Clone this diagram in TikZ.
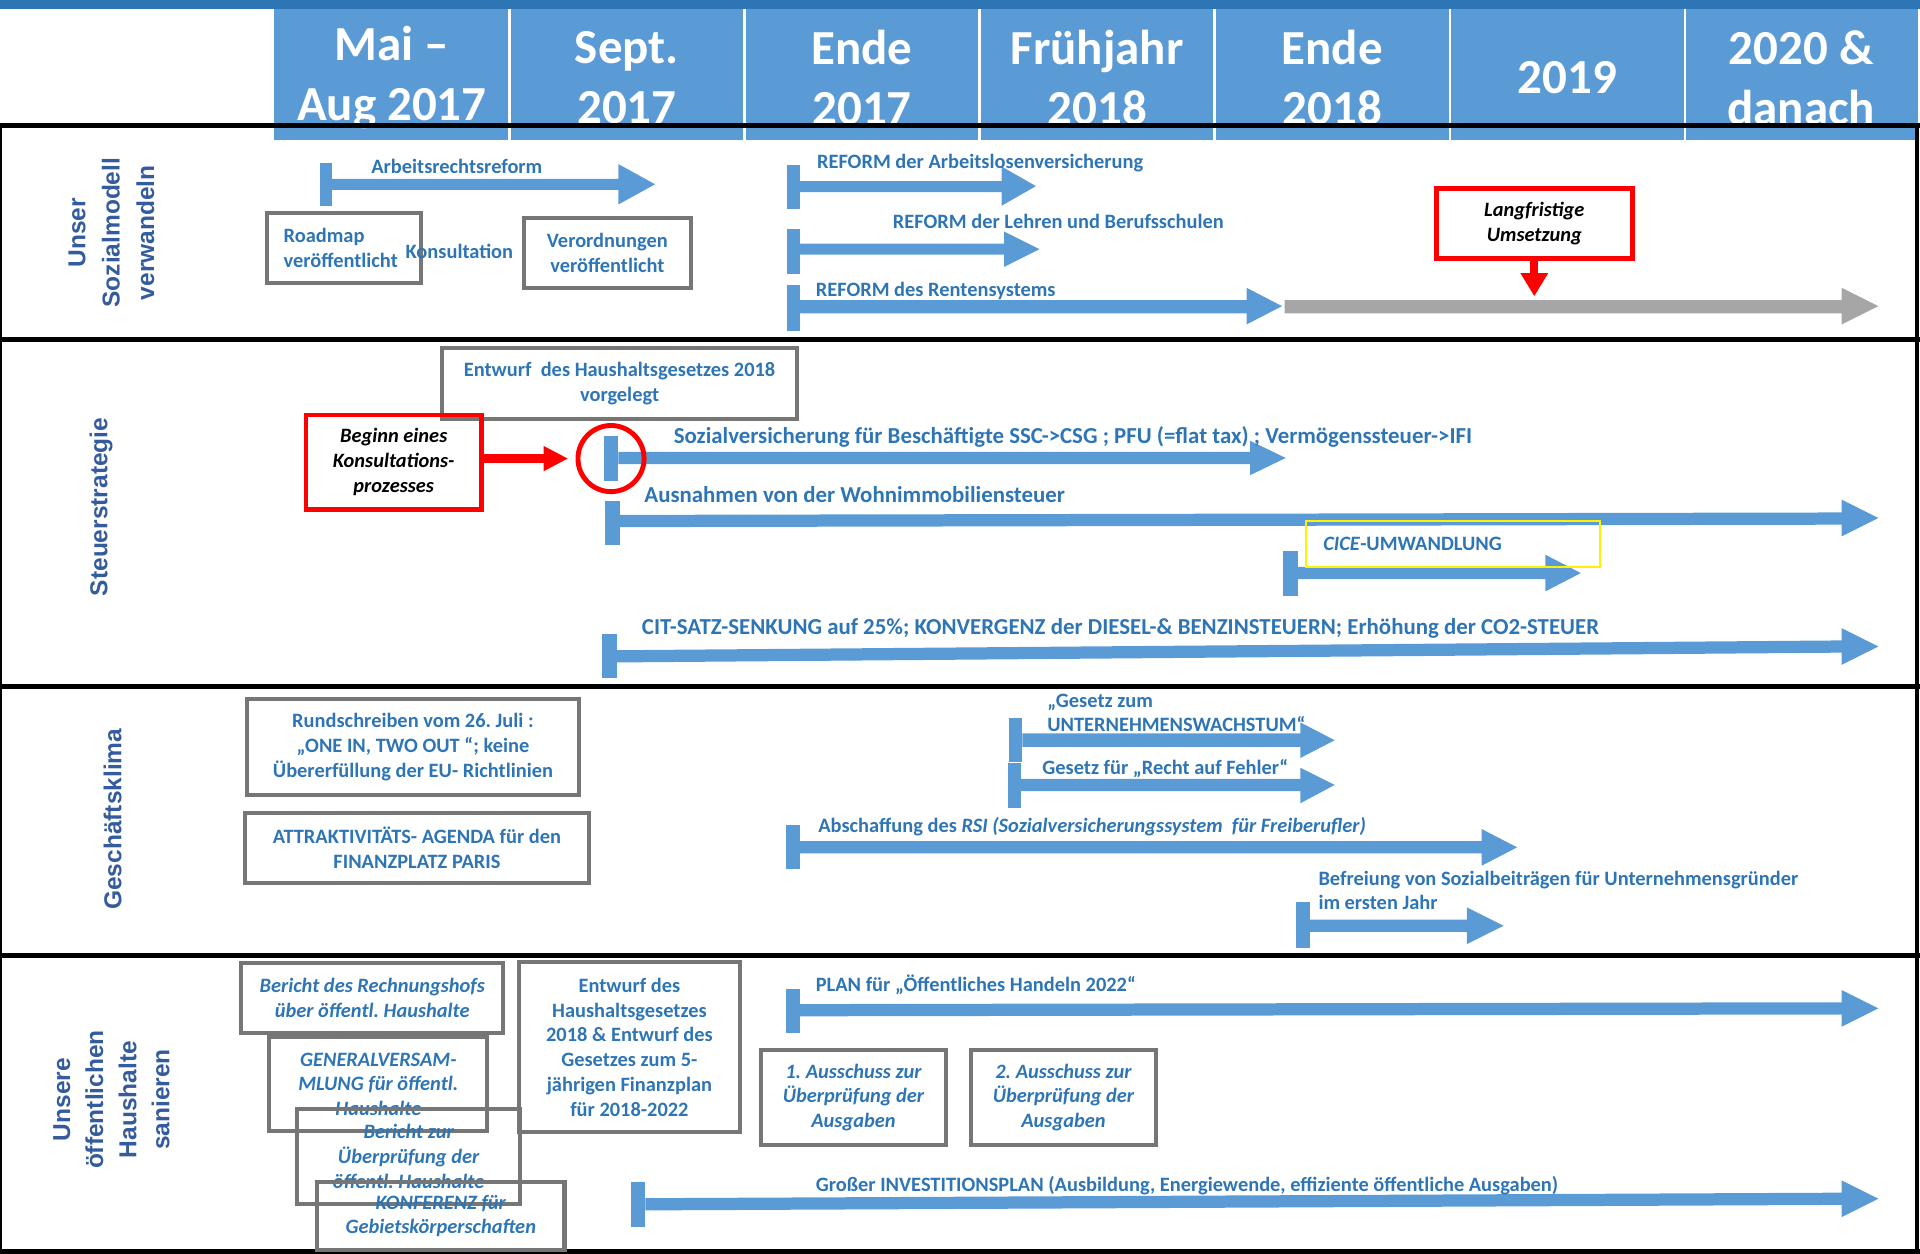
\documentclass[tikz,border=0pt]{standalone}
\usepackage{fontspec}
\setmainfont{Carlito}
\newfontfamily\sectfont{Liberation Sans}
\usepackage{tikz}
\usetikzlibrary{arrows.meta}

\definecolor{hdrblue}{RGB}{91,155,213}
\definecolor{topblue}{RGB}{46,117,182}
\definecolor{txtblue}{RGB}{46,117,182}
\definecolor{sectblue}{RGB}{52,92,157}
\definecolor{boxgray}{RGB}{118,118,118}
\definecolor{barblue}{RGB}{91,155,213}
\definecolor{longgray}{RGB}{166,166,166}

\begin{document}
\frenchspacing
\begin{tikzpicture}[x=0.75pt,y=0.75pt,yscale=-1,xscale=1,
  lbl/.style={anchor=west, inner sep=0.75pt, text=txtblue, font=\fontsize{12.5}{15.2}\selectfont\bfseries},
  lblbig/.style={lbl, font=\fontsize{14}{17}\selectfont\bfseries},
  gbox/.style={draw=boxgray, line width=2.5pt, inner sep=0pt, align=center, text=txtblue, font=\fontsize{12.5}{15.2}\selectfont\bfseries},
  gibox/.style={gbox, font=\fontsize{12.5}{15.2}\selectfont\bfseries\itshape},
  rbox/.style={draw=red, line width=2.8pt, inner sep=0pt, align=center, text=black, font=\fontsize{12.5}{15.2}\selectfont\bfseries\itshape},
  sect/.style={rotate=90, align=center, text=sectblue, font=\sectfont\fontsize{15}{21}\selectfont\bfseries},
  hdr/.style={align=center, text=white, inner sep=0pt, font=\fontsize{30}{36.5}\selectfont\bfseries},
  tlbar/.style={fill=barblue},
  sectline/.style={line width=3pt}
]
\useasboundingbox (0,0) rectangle (1568,1024);

%Header
\fill [topblue] (0,0) rectangle (1568,7);
\fill [hdrblue] (224,7) rectangle (1566,114);
\foreach \xs in {416,608,800,992,1184,1376}
  \draw [white, line width=1.5pt] (\xs,7) -- (\xs,114);

% Text Node
\node [hdr] (hdrMai) at (320,63.5) {Mai –\\Aug 2017};
\node [hdr] (hdrSept) at (512,63.5) {Sept.\\2017};
\node [hdr] (hdrEndeA) at (704,63.5) {Ende\\2017};
\node [hdr] (hdrFrueh) at (896,63.5) {Frühjahr\\2018};
\node [hdr] (hdrEndeB) at (1088,63.5) {Ende\\2018};
\node [hdr] (hdrJahr) at (1280,63) {2019};
\node [hdr] (hdrDanach) at (1471,63.5) {2020 \&\\danach};

%Straight Lines: section frames
\draw [sectline] (0,102.5) -- (1568,102.5);
\draw [sectline] (0,277) -- (1568,277);
\draw [sectline] (0,560.5) -- (1568,560.5);
\draw [sectline] (0,780.5) -- (1568,780.5);
\draw [sectline] (0,1022) -- (1568,1022);
\draw [line width=1.5pt] (1,102) -- (1,1024);
\draw [line width=2.5pt] (1565.5,102) -- (1565.5,1024);

% Text Node: section titles
\node [sect] (secSozial) at (91,190) {Unser\\Sozialmodell\\verwandeln};
\node [sect] (secSteuer) at (82.5,414) {Steuerstrategie};
\node [sect] (secKlima) at (92,669) {Geschäftsklima};
\node [sect, font=\sectfont\fontsize{15}{20.25}\selectfont\bfseries] (secHaushalt) at (91,898) {Unsere\\öffentlichen\\Haushalte\\sanieren};

%Shape: Right Arrow [Arbeitsrechtsreform]
\fill [tlbar] (261,133) rectangle (271,168);
\fill [tlbar] (271,146) -- (505,146) -- (505,134) -- (535,150.5) -- (505,167) -- (505,155) -- (271,155) -- cycle;
%Shape: Right Arrow [Arbeitslosenversicherung]
\fill [tlbar] (643,135) rectangle (653,171);
\fill [tlbar] (653,148) -- (818,148) -- (818,136) -- (846,152) -- (818,168) -- (818,157) -- (653,157) -- cycle;
%Shape: Right Arrow [Lehren]
\fill [tlbar] (643,187) rectangle (653,224);
\fill [tlbar] (653,199) -- (820,199) -- (820,189) -- (849,203.5) -- (820,218) -- (820,208) -- (653,208) -- cycle;
%Shape: Right Arrow [Rentensystem]
\fill [tlbar] (643,233) rectangle (653,270);
\fill [tlbar] (653,245) -- (1018,245) -- (1018,235) -- (1047,250) -- (1018,265) -- (1018,256) -- (653,256) -- cycle;
%Shape: Right Arrow [gray, long term]
\fill [longgray] (1049,245) -- (1504,245) -- (1504,235) -- (1534,250) -- (1504,265) -- (1504,256) -- (1049,256) -- cycle;

%Shape: Right Arrow [Sozialversicherung]
\fill [tlbar] (493,356) rectangle (505,393);
\fill [tlbar] (505,369) -- (1021,369) -- (1021,360) -- (1050,374) -- (1021,388) -- (1021,379) -- (505,379) -- cycle;
%Shape: Right Arrow [Wohnimmobilien]
\fill [tlbar] (494,409) rectangle (506,445);
\fill [tlbar] (506,420.5) -- (1504,418.5) -- (1504,408) -- (1534,423) -- (1504,438) -- (1504,428.5) -- (506,430.5) -- cycle;
%Shape: Right Arrow [CICE]
\fill [tlbar] (1048,450) rectangle (1060,487);
\fill [tlbar] (1060,463) -- (1262,463) -- (1262,453) -- (1291,468) -- (1262,483) -- (1262,473) -- (1060,473) -- cycle;
%Shape: Right Arrow [CIT]
\fill [tlbar] (492,518) rectangle (504,554);
\fill [tlbar] (504,531) -- (1504,523) -- (1504,513) -- (1534,528) -- (1504,543) -- (1504,533) -- (504,541) -- cycle;

%Shape: Right Arrow [Unternehmenswachstum]
\fill [tlbar] (824,586) rectangle (835,622);
\fill [tlbar] (835,599) -- (1062,599) -- (1062,590) -- (1090,604.5) -- (1062,619) -- (1062,610) -- (835,610) -- cycle;
%Shape: Right Arrow [Recht auf Fehler]
\fill [tlbar] (823,623) rectangle (834,660);
\fill [tlbar] (834,636) -- (1062,636) -- (1062,627) -- (1090,641) -- (1062,656) -- (1062,646) -- (834,646) -- cycle;
%Shape: Right Arrow [RSI]
\fill [tlbar] (642,674) rectangle (653,710);
\fill [tlbar] (653,687) -- (1210,687) -- (1210,677) -- (1239,692) -- (1210,707) -- (1210,697) -- (653,697) -- cycle;
%Shape: Right Arrow [Befreiung]
\fill [tlbar] (1058,737) rectangle (1070,774);
\fill [tlbar] (1070,751) -- (1198,751) -- (1198,741) -- (1228,756) -- (1198,771) -- (1198,761) -- (1070,761) -- cycle;

%Shape: Right Arrow [PLAN 2022]
\fill [tlbar] (642,808) rectangle (653,844);
\fill [tlbar] (653,820) -- (1504,818.5) -- (1504,808.5) -- (1534,823.5) -- (1504,838.5) -- (1504,828.5) -- (653,830) -- cycle;
%Shape: Right Arrow [Investitionsplan]
\fill [tlbar] (515,965) rectangle (527,1002);
\fill [tlbar] (527,978.5) -- (1504,974) -- (1504,964) -- (1534,979) -- (1504,994) -- (1504,984) -- (527,988.5) -- cycle;

% Text Node: Sozialmodell
\node [lbl] (lblArbeitsrecht) at (302,136) {Arbeitsrechtsreform};
\node [gbox, align=left, text width=74pt, inner xsep=10.25pt, minimum height=42.75pt] (boxRoadmap) at (281,202.5) {Roadmap\\veröffentlicht};
\node [lbl] (lblKonsult) at (330,205) {Konsultation};
\node [gbox, minimum width=102pt, minimum height=42.75pt] (boxVerordn) at (496,206.5) {Verordnungen\\veröffentlicht};
\node [lbl] (lblArbeitslos) at (666,133) {REFORM der Arbeitslosenversicherung};
\node [lbl] (lblLehren) at (728,181) {REFORM der Lehren und Berufsschulen};
\node [lbl] (lblRente) at (665,238) {REFORM des Rentensystems};
\node [rbox, minimum width=120pt, minimum height=42.75pt] (boxLang) at (1253,182.5) {Langfristige\\Umsetzung};
\coordinate (langTip) at (1253,242);
\draw [red, line width=5pt, -{Triangle[length=14.25pt,width=16pt]}] (boxLang.south) -- (langTip);

% Text Node: Steuerstrategie
\node [gbox, minimum width=217.5pt, minimum height=43.5pt] (boxEntwurf) at (506,313) {Entwurf\ \ des Haushaltsgesetzes 2018\\vorgelegt};
\node [rbox, minimum width=107.25pt, minimum height=57.75pt] (boxBeginn) at (321.5,377.5) {Beginn eines\\Konsultations-\\prozesses};
\node [draw=red, line width=3pt, circle, minimum size=40.5pt, inner sep=0pt] (ring) at (499,374.5) {};
\draw [red, line width=5.25pt, -{Triangle[length=15pt,width=14.25pt]}, shorten >=4.5pt] (boxBeginn.east |- ring.west) -- (ring.west);
\node [lblbig] (lblSozial) at (549,357) {Sozialversicherung für Beschäftigte SSC->CSG ; PFU (=flat tax) ; Vermögenssteuer->IFI};
\node [lblbig] (lblAusnahmen) at (525,404) {Ausnahmen von der Wohnimmobiliensteuer};
\node [lbl, draw=yellow, line width=1.1pt, text width=159pt, align=left, inner xsep=10.5pt, minimum height=28pt] (boxCice) at (1066,444.25) {\textit{CICE}-UMWANDLUNG};
\node [lblbig] (lblCit) at (523,513) {CIT-SATZ-SENKUNG auf 25\%; KONVERGENZ der DIESEL-\& BENZINSTEUERN; Erhöhung der CO2-STEUER};

% Text Node: Geschaeftsklima
\node [gbox, minimum width=203.6pt, minimum height=58.5pt] (boxRund) at (337.25,610) {Rundschreiben vom 26. Juli :\\„ONE IN, TWO OUT “; keine\\Übererfüllung der EU- Richtlinien};
\node [gbox, minimum width=210.75pt, minimum height=42.75pt] (boxAttrakt) at (340.5,692.5) {ATTRAKTIVITÄTS- AGENDA für den\\FINANZPLATZ PARIS};
\node [lbl, align=left, font=\fontsize{12.5}{14.6}\selectfont\bfseries] (lblWachstum) at (854,582) {„Gesetz zum\\UNTERNEHMENSWACHSTUM“};
\node [lbl] (lblFehler) at (850,628) {Gesetz für „Recht auf Fehler“};
\node [lbl] (lblRsi) at (667,675) {Abschaffung des \textit{RSI (Sozialversicherungssystem\ \ für Freiberufler)}};
\node [lbl, align=left, font=\fontsize{12.5}{15}\selectfont\bfseries] (lblBefreiung) at (1075.5,727) {Befreiung von Sozialbeiträgen für Unternehmensgründer\\im ersten Jahr};

% Text Node: Haushalte
\node [gibox, minimum width=160.5pt, minimum height=42.75pt] (boxRechnung) at (304,815) {Bericht des Rechnungshofs\\über öffentl. Haushalte};
\node [gibox, minimum width=133.5pt, minimum height=57.75pt] (boxGeneral) at (309,885.5) {GENERALVERSAM-\\MLUNG für öffentl.\\Haushalte};
\node [gibox, minimum width=136.9pt, minimum height=57.75pt] (boxBericht) at (333.75,944.5) {Bericht zur\\Überprüfung der\\öffentl. Haushalte};
\node [gibox, minimum width=151.5pt, minimum height=42pt] (boxKonferenz) at (360,993) {KONFERENZ für\\Gebietskörperschaften};
\node [gbox, minimum width=135pt, minimum height=103.9pt] (boxFinanz) at (514,855.25) {Entwurf des\\Haushaltsgesetzes\\2018 \& Entwurf des\\Gesetzes zum 5-\\jährigen Finanzplan\\für 2018-2022};
\node [gibox, minimum width=113.25pt, minimum height=58.1pt] (boxAusA) at (697,896.25) {1. Ausschuss zur\\Überprüfung der\\Ausgaben};
\node [gibox, minimum width=113.25pt, minimum height=58.1pt] (boxAusB) at (868.5,896.25) {2. Ausschuss zur\\Überprüfung der\\Ausgaben};
\node [lbl] (lblPlan) at (665,804) {PLAN für „Öffentliches Handeln 2022“};
\node [lbl] (lblInvest) at (665,968) {Großer INVESTITIONSPLAN (Ausbildung, Energiewende, effiziente öffentliche Ausgaben)};

\end{tikzpicture}
\end{document}
